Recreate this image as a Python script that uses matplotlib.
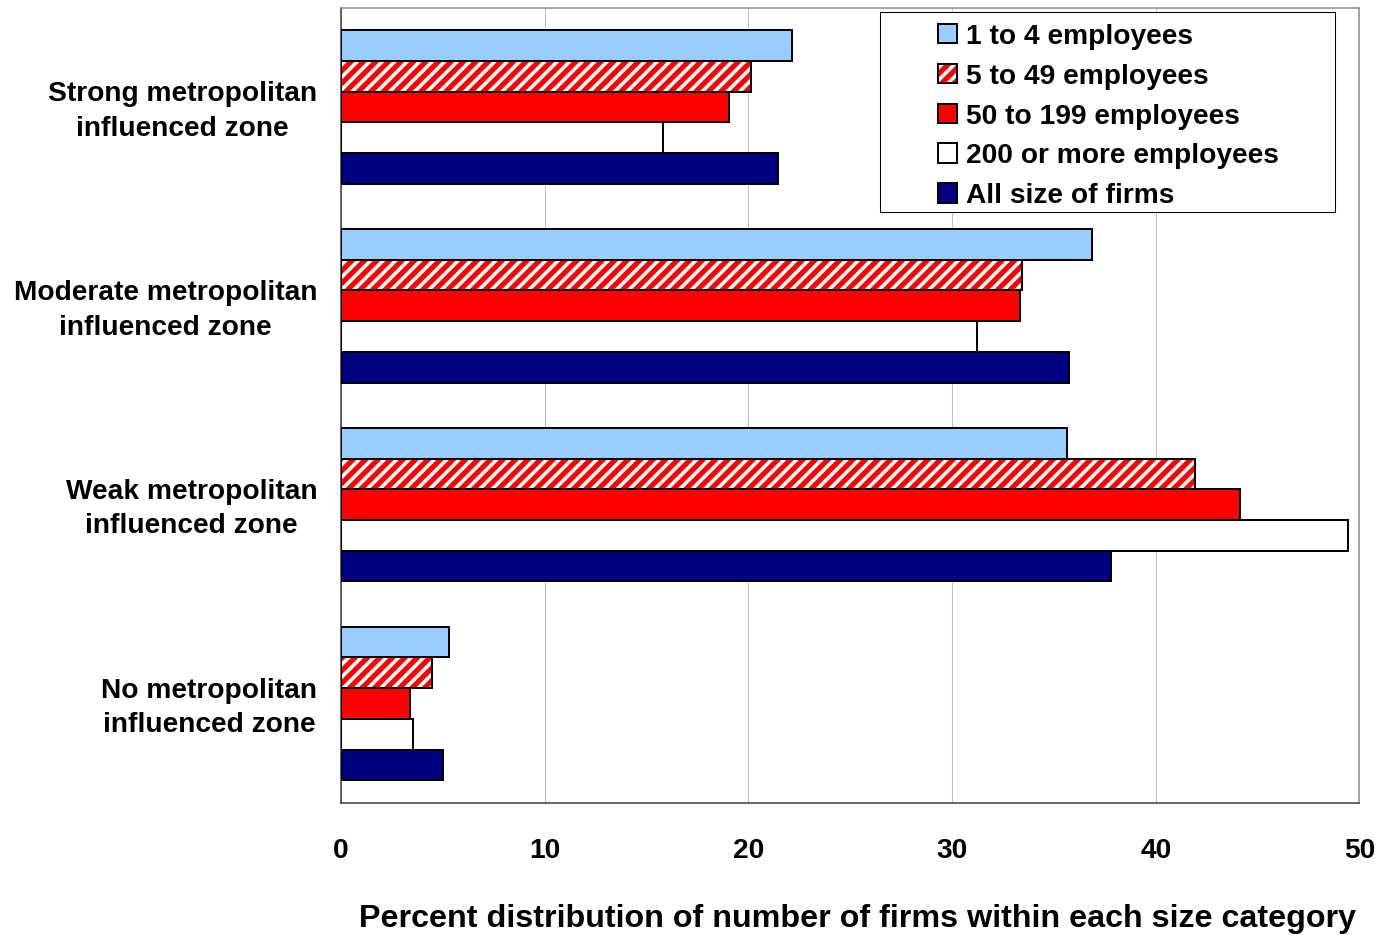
import matplotlib
matplotlib.use("Agg")
import matplotlib.pyplot as plt
from matplotlib.patches import Patch, Rectangle
from matplotlib.legend_handler import HandlerTuple
from matplotlib.transforms import ScaledTranslation
import numpy as np

# ---- data -------------------------------------------------------------
zones = [
    "Strong metropolitan\ninfluenced zone",
    "Moderate metropolitan\ninfluenced zone",
    "Weak metropolitan\ninfluenced zone",
    "No metropolitan\ninfluenced zone",
]
series_names = [
    "1 to 4 employees",
    "5 to 49 employees",
    "50 to 199 employees",
    "200 or more employees",
    "All size of firms",
]
firms_1_4 = [22.15, 36.85, 35.66, 5.29]
firms_5_49 = [20.14, 33.42, 41.92, 4.47]
firms_50_199 = [19.06, 33.33, 44.15, 3.40]
firms_200_plus = [15.78, 31.24, 49.42, 3.52]
firms_all = [21.46, 35.72, 37.82, 5.00]
x_ticks = [0, 10, 20, 30, 40, 50]

# ---- style ------------------------------------------------------------
DPI = 75
FS = 27  # points
plt.rcParams["font.family"] = ["Liberation Sans", "DejaVu Sans"]
plt.rcParams["font.weight"] = "bold"
plt.rcParams["hatch.linewidth"] = 5.0

fills = ["#99CCFF", "white", "#FF0000", "white", "#000080"]
EDGE_LW = 1.9

fig = plt.figure(figsize=(1390.5 / DPI, 935.4 / DPI), dpi=DPI)
fig.patch.set_facecolor("white")
ax = fig.add_axes([341 / 1390, 132 / 935, 1018 / 1390, 795 / 935])

series = [firms_1_4, firms_5_49, firms_50_199, firms_200_plus, firms_all]
y = np.arange(len(zones))
bar_h = 0.1545

handles = []
for j, (vals, fc) in enumerate(zip(series, fills)):
    pos = y + (j - 2) * bar_h
    if j == 1:
        # red diagonal stripes on white, outlined in black
        ax.barh(pos, vals, height=bar_h, color="white", edgecolor="#FF0000",
                hatch="//", linewidth=0, zorder=3)
        ax.barh(pos, vals, height=bar_h, fill=False, edgecolor="black",
                linewidth=EDGE_LW, zorder=4)
        h = (Patch(facecolor="white", edgecolor="#FF0000", hatch="//", linewidth=0),
             Patch(fill=False, edgecolor="black", linewidth=EDGE_LW))
    else:
        ax.barh(pos, vals, height=bar_h, color=fc, edgecolor="black",
                linewidth=EDGE_LW, zorder=3)
        h = Patch(facecolor=fc, edgecolor="black", linewidth=EDGE_LW)
    handles.append(h)

ax.set_xlim(0, 50)
ax.set_ylim(len(zones) - 0.5, -0.5)
ax.set_xticks(x_ticks)
ax.set_xticklabels([str(t) for t in x_ticks], fontsize=FS, fontweight="bold")
ax.set_yticks(y)
ax.set_yticklabels(zones, fontsize=FS, fontweight="bold",
                   multialignment="center", linespacing=1.42)
ax.tick_params(axis="x", length=0, pad=33)
ax.tick_params(axis="y", length=0, pad=23)
lift = ScaledTranslation(0, 3 / DPI, fig.dpi_scale_trans)
for lbl in ax.get_yticklabels():
    lbl.set_transform(lbl.get_transform() + lift)

ax.grid(axis="x", color="#BFBFBF", linewidth=1.0, zorder=0)
ax.set_axisbelow(True)
for side in ("top", "right"):
    ax.spines[side].set_color("#8C8C8C")
    ax.spines[side].set_linewidth(1.5)
for side in ("left", "bottom"):
    ax.spines[side].set_color("#404040")
    ax.spines[side].set_linewidth(1.5)

ax.set_xlabel("Percent distribution of number of firms within each size category",
              fontsize=31, fontweight="bold", va="center")
ax.xaxis.set_label_coords((857 - 341) / 1018, -(919 - 803) / 795)

# legend box
box = Rectangle((880 / 1390, 1 - 212 / 935), 455 / 1390, 200 / 935,
                transform=fig.transFigure, facecolor="white",
                edgecolor="black", linewidth=1.0, zorder=2)
fig.patches.append(box)

leg = fig.legend(handles, series_names, loc="upper left",
                 bbox_to_anchor=(938 / 1390, 1 - 24 / 935),
                 frameon=False, prop={"weight": "bold", "size": FS},
                 handlelength=0.68, handleheight=0.68, handletextpad=0.3,
                 labelspacing=0.49, borderpad=0, borderaxespad=0,
                 handler_map={tuple: HandlerTuple(ndivide=1)})
leg.set_zorder(5)

fig.savefig("out.png", dpi=DPI, facecolor="white")
